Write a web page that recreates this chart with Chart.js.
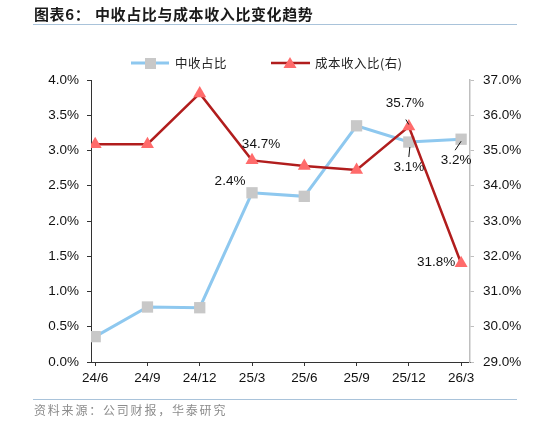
<!DOCTYPE html>
<html>
<head>
<meta charset="utf-8">
<script src="https://cdn.jsdelivr.net/npm/chart.js@4/dist/chart.umd.min.js"></script>
<style>
  html, body { margin: 0; padding: 0; background: #fff; }
  #wrap { width: 534px; height: 424px; position: relative; }
</style>
</head>
<body>
<div id="wrap"><canvas id="c" width="534" height="424"></canvas></div>
<script>
// data
const quarters = ['24/6', '24/9', '24/12', '25/3', '25/6', '25/9', '25/12', '26/3'];
const feeShare = [0.36, 0.78, 0.77, 2.40, 2.35, 3.35, 3.12, 3.16];      // 中收占比, left axis, %
const costIncome = [35.18, 35.18, 36.62, 34.72, 34.56, 34.45, 35.68, 31.80]; // 成本收入比, right axis, %
const leftTicks = [0, 0.5, 1, 1.5, 2, 2.5, 3, 3.5, 4];
const rightTicks = [29, 30, 31, 32, 33, 34, 35, 36, 37];

const tickFont = { family: 'Liberation Sans, Arial, sans-serif', size: 13.5 };
const cjk = '"Noto Sans CJK SC", sans-serif';

// which points get a value label, and where it sits relative to the point
const labels = [
  { ds: 0, i: 3, dx: -22, dy: -12 },
  { ds: 1, i: 3, dx: 9, dy: -16 },
  { ds: 1, i: 6, dx: -4, dy: -23, lead: [[-3, -7], [0, -2]] },
  { ds: 0, i: 6, dx: 0, dy: 25, lead: [[1, 5], [0, 15]] },
  { ds: 0, i: 7, dx: -5, dy: 21, lead: [[-6, 11], [0, 2]] },
  { ds: 1, i: 7, dx: -25, dy: -1 }
];

const extras = {
  id: 'extras',
  afterDraw(chart) {
    const ctx = chart.ctx;
    ctx.save();
    // title
    ctx.fillStyle = '#1a1a1a';
    ctx.textBaseline = 'middle';
    ctx.font = 'bold 15px ' + cjk;
    ctx.letterSpacing = '0.6px';
    ctx.fillText('图表6：', 34, 14);
    ctx.fillText('中收占比与成本收入比变化趋势', 95, 14);
    ctx.letterSpacing = '0px';
    ctx.strokeStyle = '#a9c3da';
    ctx.lineWidth = 1;
    ctx.beginPath(); ctx.moveTo(33, 24.5); ctx.lineTo(517, 24.5); ctx.stroke();
    // source
    ctx.beginPath(); ctx.moveTo(33, 399.5); ctx.lineTo(517, 399.5); ctx.stroke();
    ctx.fillStyle = '#8c8c8c';
    ctx.font = '12px ' + cjk;
    ctx.letterSpacing = '1.8px';
    ctx.fillText('资料来源：公司财报，华泰研究', 34, 410);

    // legend
    ctx.font = '12.5px ' + cjk;
    ctx.letterSpacing = '0.5px';
    ctx.lineWidth = 3;
    ctx.strokeStyle = '#8ec8ef';
    ctx.beginPath(); ctx.moveTo(131, 63); ctx.lineTo(169, 63); ctx.stroke();
    ctx.fillStyle = '#c8c8c8';
    ctx.fillRect(145, 58, 11, 11);
    ctx.fillStyle = '#222';
    ctx.fillText('中收占比', 175, 63);
    ctx.strokeStyle = '#b11d1d';
    ctx.lineWidth = 2.5;
    ctx.beginPath(); ctx.moveTo(271, 63); ctx.lineTo(310, 63); ctx.stroke();
    ctx.fillStyle = '#ff6b6b';
    ctx.beginPath(); ctx.moveTo(290, 57); ctx.lineTo(296.5, 68); ctx.lineTo(283.5, 68); ctx.closePath(); ctx.fill();
    ctx.fillStyle = '#222';
    ctx.fillText('成本收入比(右)', 315, 63);
    ctx.letterSpacing = '0px';

    // value labels
    ctx.font = '13.5px Liberation Sans, Arial, sans-serif';
    ctx.textAlign = 'center';
    ctx.strokeStyle = '#111';
    ctx.lineWidth = 1;
    labels.forEach(l => {
      const p = chart.getDatasetMeta(l.ds).data[l.i];
      const v = chart.data.datasets[l.ds].data[l.i].y;
      ctx.fillStyle = '#111';
      ctx.fillText(v.toFixed(1) + '%', p.x + l.dx, p.y + l.dy);
      if (l.lead) {
        ctx.beginPath();
        ctx.moveTo(p.x + l.lead[0][0], p.y + l.lead[0][1]);
        ctx.lineTo(p.x + l.lead[1][0], p.y + l.lead[1][1]);
        ctx.stroke();
      }
    });
    ctx.restore();
  }
};

new Chart(document.getElementById('c'), {
  type: 'line',
  data: {
    datasets: [{
      label: '中收占比',
      data: feeShare.map((v, i) => ({ x: i, y: v })),
      yAxisID: 'y',
      borderColor: '#8ec8ef',
      borderWidth: 3,
      pointStyle: 'rect',
      pointRadius: 8,
      pointBackgroundColor: '#c8c8c8',
      pointBorderWidth: 0,
      order: 2
    }, {
      label: '成本收入比(右)',
      data: costIncome.map((v, i) => ({ x: i, y: v })),
      yAxisID: 'y1',
      borderColor: '#b11d1d',
      borderWidth: 2.5,
      pointStyle: 'triangle',
      pointRadius: 7.5,
      pointBackgroundColor: '#ff6b6b',
      pointBorderWidth: 0,
      order: 1
    }]
  },
  options: {
    responsive: false,
    animation: false,
    layout: { padding: { top: 80, left: 0, right: 0, bottom: 0 } },
    elements: { line: { tension: 0 } },
    plugins: { legend: { display: false }, tooltip: { enabled: false } },
    scales: {
      x: {
        type: 'linear',
        min: -0.08,
        max: 7.17,
        afterBuildTicks: s => { s.ticks = quarters.map((q, i) => ({ value: i })); },
        afterFit: s => { s.height = 62; },
        ticks: {
          callback: v => quarters[v],
          color: '#111',
          font: tickFont,
          padding: 4,
          maxRotation: 0,
          autoSkip: false
        },
        grid: { drawOnChartArea: false, tickLength: 4, color: '#333' },
        border: { color: '#333', width: 1 }
      },
      y: {
        position: 'left',
        min: 0,
        max: 4,
        afterBuildTicks: s => { s.ticks = leftTicks.map(v => ({ value: v })); },
        afterFit: s => { s.width = 91; },
        ticks: { callback: v => v.toFixed(1) + '%', color: '#111', font: tickFont, padding: 8 },
        grid: { drawOnChartArea: false, tickLength: 4, color: '#333' },
        border: { color: '#333', width: 1 }
      },
      y1: {
        position: 'right',
        min: 29,
        max: 37,
        afterBuildTicks: s => { s.ticks = rightTicks.map(v => ({ value: v })); },
        afterFit: s => { s.width = 64; },
        ticks: { callback: v => v.toFixed(1) + '%', color: '#111', font: tickFont, padding: 9 },
        grid: { drawOnChartArea: false, tickLength: 4, color: '#bfbfbf' },
        border: { color: '#bfbfbf', width: 1.5 }
      }
    }
  },
  plugins: [extras]
});
</script>
</body>
</html>
